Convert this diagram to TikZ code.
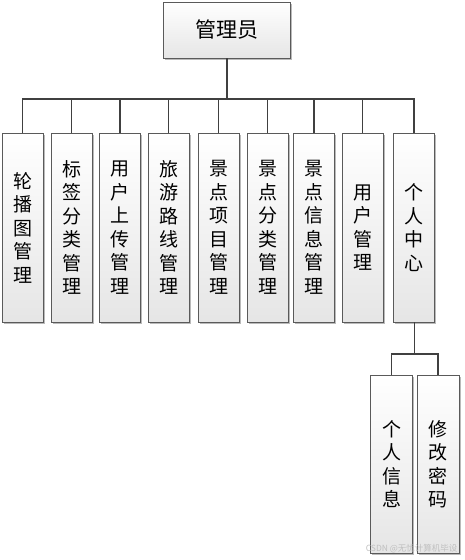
\documentclass[tikz,border=0pt]{standalone}
\usepackage{fontspec}
\newfontfamily\cjk{Noto Sans CJK SC}
\usetikzlibrary{shadows,calc}
\definecolor{boxline}{HTML}{5A5A5A}
\definecolor{conn}{HTML}{404040}
\tikzset{
  box/.style={draw=boxline, line width=0.9pt, top color=white, bottom color=black!10,
    drop shadow={shadow xshift=1.6pt, shadow yshift=-1.6pt, opacity=0.45, fill=black!60},
    inner sep=0pt, align=center, font=\cjk\fontsize{19}{23.5}\selectfont},
  tall/.style={box, minimum width=41pt, minimum height=189pt},
  low/.style={box, minimum width=42pt, minimum height=178pt},
  wire/.style={draw=conn, line width=1.3pt}
}
\begin{document}
\begin{tikzpicture}[x=1pt,y=-1pt]
\useasboundingbox (0,0) rectangle (465,560);
\node[box, minimum width=127pt, minimum height=56pt, font=\cjk\fontsize{21}{24}\selectfont] (top) at (227,30) {管理员};
\node[tall] (b1) at (22.5,227.5) {轮\\播\\图\\管\\理};
\node[tall] (b2) at (71.5,227.5) {标\\签\\分\\类\\管\\理};
\node[tall] (b3) at (120,227.5) {用\\户\\上\\传\\管\\理};
\node[tall] (b4) at (168.5,227.5) {旅\\游\\路\\线\\管\\理};
\node[tall] (b5) at (218.5,227.5) {景\\点\\项\\目\\管\\理};
\node[tall] (b6) at (267.5,227.5) {景\\点\\分\\类\\管\\理};
\node[tall] (b7) at (314,227.5) {景\\点\\信\\息\\管\\理};
\node[tall] (b8) at (362.5,227.5) {用\\户\\管\\理};
\node[tall] (b9) at (414,227.5) {个\\人\\中\\心};
\node[low] (b10) at (391.5,464) {个\\人\\信\\息};
\node[low] (b11) at (438,464) {修\\改\\密\\码};
\coordinate (bar) at (0,99);
\coordinate (bar2) at (0,354);
\coordinate (mid) at ($(b10.north)!0.5!(b11.north)$);
\draw[wire] (top.south) -- (top.south |- bar);
\draw[wire] (b1.north) -- (b1.north |- bar) -| (b9.north);
\foreach \n in {b2,b3,b4,b5,b6,b7,b8} \draw[wire] (\n.north) -- (\n.north |- bar);
\draw[wire] (mid |- b9.south) -- (mid |- bar2);
\draw[wire] (b10.north) -- (b10.north |- bar2) -| (b11.north);
\node[text=black!25, font=\cjk\fontsize{8.5}{10}\selectfont, anchor=east] (wm) at (461,549) {CSDN @无忧计算机毕设};
\end{tikzpicture}
\end{document}
